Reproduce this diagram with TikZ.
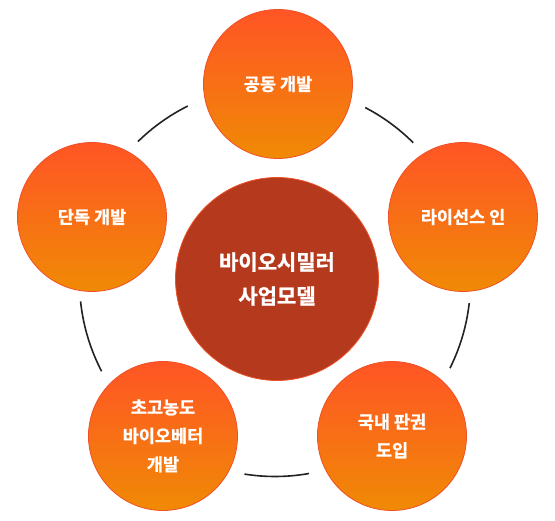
\documentclass[tikz,border=0pt]{standalone}
\usepackage{fontspec}
\setmainfont{Noto Sans CJK KR}
\newfontfamily\krbold{Noto Sans CJK KR}[UprightFont={* Bold}, FakeBold=1.2]
\definecolor{hubred}{RGB}{181,57,29}
\definecolor{rimred}{RGB}{240,80,40}
\definecolor{toporange}{RGB}{255,85,37}
\definecolor{lowerorange}{RGB}{240,138,5}
\definecolor{ringgray}{RGB}{34,34,34}
\tikzset{
  hub/.style={circle, draw=rimred, line width=0.8pt, fill=hubred, minimum size=203pt,
    text=white, align=center, font=\krbold\fontsize{21}{34}\selectfont},
  spoke/.style={circle, draw=rimred, line width=0.8pt, top color=toporange, bottom color=lowerorange,
    minimum size=149pt, text=white, align=center, font=\krbold\fontsize{17.5}{28.5}\selectfont},
  ringseg/.style={draw=ringgray, line width=1.6pt}
}
\begin{document}
\begin{tikzpicture}[x=1pt,y=1pt]
    \useasboundingbox (0,0) rectangle (555,521);
    \coordinate (ring) at (275,240);
    \draw[ringseg] ([shift={(45:195.5)}]ring) arc[start angle=45, end angle=62.5, radius=195.5];
    \draw[ringseg] ([shift={(116.5:195.5)}]ring) arc[start angle=116.5, end angle=134.5, radius=195.5];
    \draw[ringseg] ([shift={(186:195.5)}]ring) arc[start angle=186, end angle=207.5, radius=195.5];
    \draw[ringseg] ([shift={(261:195.5)}]ring) arc[start angle=261, end angle=280, radius=195.5];
    \draw[ringseg] ([shift={(333.5:195.5)}]ring) arc[start angle=333.5, end angle=353.5, radius=195.5];
    \node[hub] (model) at (277,242) {바이오시밀러\\사업모델};
    \node[spoke] (joint) at (278,437) {공동 개발};
    \node[spoke] (license) at (463,304) {라이선스 인};
    \node[spoke] (solo) at (92,304) {단독 개발};
    \node[spoke] (better) at (163,85) {초고농도\\바이오베터\\개발};
    \node[spoke] (import) at (392,85) {국내 판권\\도입};
\end{tikzpicture}
\end{document}
